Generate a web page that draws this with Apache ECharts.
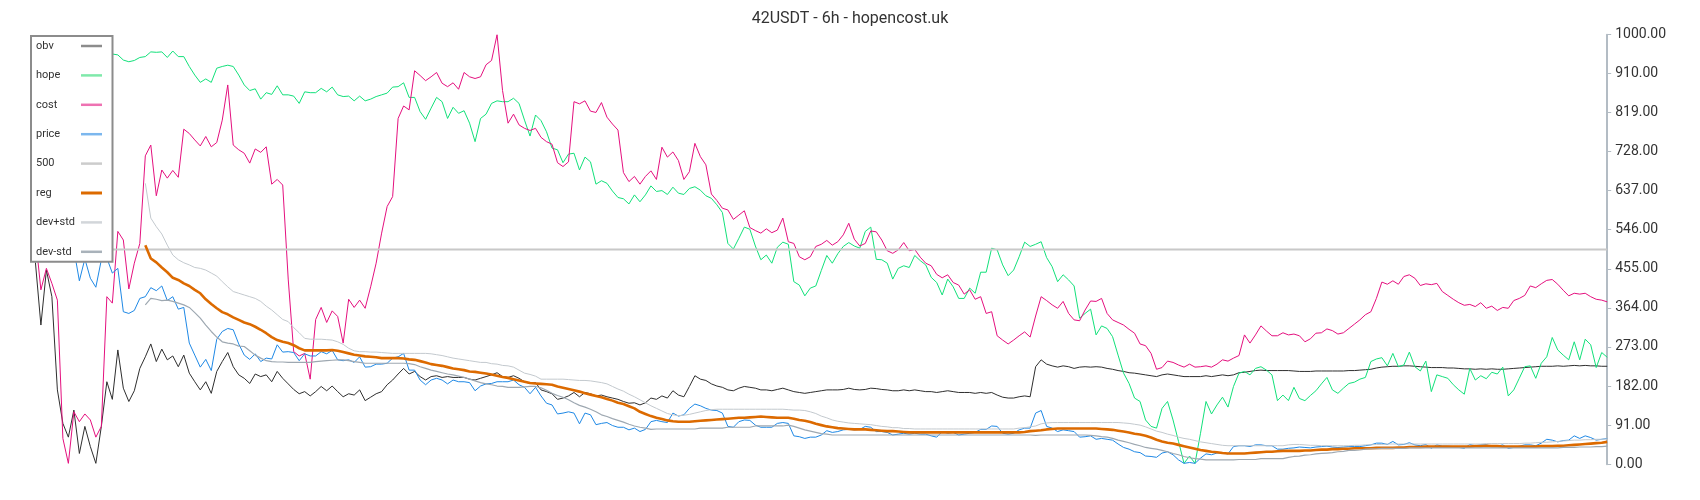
<!DOCTYPE html>
<html>
<head>
<meta charset="utf-8">
<script src="https://cdn.jsdelivr.net/npm/echarts@6/dist/echarts.min.js"></script>
<style>
  html, body { margin: 0; padding: 0; background: #fff; }
  #chart { width: 1700px; height: 500px; }
</style>
</head>
<body>
<div id="chart"></div>
<script>
const titleText = '42USDT - 6h - hopencost.uk';
const seriesNames = ['obv', 'hope', 'cost', 'price', '500', 'reg', 'dev+std', 'dev-std'];
const yTicks = [0, 91, 182, 273, 364, 455, 546, 637, 728, 819, 910, 1000];

const obv = [
  470, 324, 452, 390, 173, 95, 63, 126, 25, 88, 41, 2, 88, 192, 151, 266, 177, 146, 171, 223, 250, 280, 239, 268, 243, 252, 227, 254, 212, 192, 173, 192, 165, 216, 239, 260, 227, 208, 200, 188, 210, 204, 208, 192, 216, 200,
  187, 174, 164, 169, 159, 169, 181, 171, 182, 169, 157, 164, 161, 173, 148, 156, 164, 169, 185, 196, 210, 223, 210, 216, 204, 196, 204, 206, 202, 204, 202, 202, 202, 198, 196, 200, 204, 208, 213, 204, 202, 206, 200, 192, 188, 190,
  173, 169, 164, 151, 154, 159, 167, 157, 167, 164, 159, 161, 157, 154, 151, 146, 142, 143, 138, 143, 154, 151, 159, 154, 171, 161, 157, 181, 206, 198, 195, 187, 182, 179, 173, 171, 177, 181, 179, 177, 173, 173, 171, 174, 177,
  173, 169, 167, 165, 167, 169, 171, 173, 173, 173, 174, 177, 174, 173, 174, 177, 176, 174, 173, 171, 171, 173, 171, 173, 171, 169, 169, 167, 169, 171, 169, 167, 167, 167, 165, 167, 165, 167, 161, 156, 154, 154, 157, 159, 157, 227,
  243, 233, 229, 226, 229, 227, 223, 226, 227, 226, 227, 226, 223, 221, 218, 216, 213, 212, 210, 208, 206, 204, 208, 210, 208, 206, 204, 204, 204, 204, 206, 204, 206, 208, 206, 208, 213, 214, 216, 218, 219, 218, 218, 218, 218, 218,
  217, 216, 216, 216, 217, 217, 217, 217, 217, 217, 218, 218, 219, 220, 221, 224, 226, 227, 228, 228, 229, 229, 228, 227, 226, 225, 225, 225, 224, 224, 223, 222, 222, 221, 222, 221, 222, 221, 221, 222, 223, 224, 225, 226, 227, 228,
  228, 228, 229, 228, 229, 230, 229, 230, 229, 229, 228, 228
];

const hope = [
  930, 945, 950, 940, 955, 948, 952, 960, 950, 945, 955, 958, 950, 952,
  955, 953, 941, 937, 940, 947, 949, 960, 959, 960, 947, 962, 949, 949, 926, 906, 889, 897, 889, 922, 926, 929, 926, 906, 883, 870, 874, 850, 865, 861, 881, 860,
  860, 857, 840, 867, 865, 865, 875, 867, 878, 860, 856, 857, 846, 857, 846, 850, 856, 860, 864, 878, 879, 888, 854, 854, 821, 803, 829, 854, 844, 805, 831, 817, 823, 794, 751, 805, 815, 840, 846, 844, 844, 852, 840, 801, 764, 813,
  800, 774, 736, 732, 702, 722, 724, 685, 715, 704, 652, 660, 654, 636, 621, 618, 606, 627, 611, 627, 648, 635, 637, 628, 645, 631, 628, 642, 646, 638, 625, 619, 604, 586, 514, 501, 526, 552, 547, 508, 476, 487, 468, 505, 517, 512,
  425, 417, 392, 410, 415, 451, 486, 468, 490, 507, 516, 508, 503, 542, 552, 477, 476, 468, 431, 456, 462, 458, 486, 474, 464, 435, 423, 394, 431, 413, 386, 386, 410, 398, 447, 447, 503, 499, 464, 439, 452, 483, 517, 507, 512,
  518, 481, 460, 425, 441, 429, 415, 340, 351, 361, 301, 322, 316, 297, 254, 212, 188, 154, 146, 103, 88, 84, 130, 146, 103, 53, 2, 19, 2, 72, 146, 117, 138, 156, 133, 181, 212, 216, 208, 223, 227, 219, 208, 148, 161, 148,
  179, 153, 148, 160, 171, 187, 202, 173, 165, 177, 188, 191, 198, 202, 239, 245, 248, 229, 258, 227, 231, 261, 227, 217, 240, 169, 208, 204, 200, 185, 173, 163, 223, 196, 206, 199, 214, 210, 226, 159, 173, 200, 227, 229, 200, 235,
  250, 295, 266, 254, 243, 285, 243, 291, 278, 225, 260, 249
];

const cost = [
  530, 406, 456, 421, 382, 60, 2, 122, 99, 117, 103, 63, 88, 390, 375, 542, 522, 408, 468, 514, 718, 743, 625, 685, 666, 684, 668, 780, 770, 755, 741, 763, 739, 749, 801, 883, 743, 732, 724, 701, 734, 726, 739, 652, 663, 650,
  431, 262, 252, 258, 198, 337, 365, 330, 357, 344, 282, 384, 365, 382, 363, 413, 468, 538, 600, 623, 805, 834, 825, 916, 905, 893, 902, 912, 887, 879, 888, 873, 912, 902, 898, 902, 930, 940, 1000, 870, 794, 815, 790, 782, 777, 782,
  761, 751, 745, 702, 693, 704, 844, 839, 846, 822, 819, 842, 808, 792, 778, 679, 658, 670, 652, 670, 683, 663, 738, 715, 727, 707, 663, 681, 747, 716, 697, 629, 614, 596, 592, 570, 580, 590, 551, 544, 538, 548, 539, 545, 573, 518,
  514, 483, 476, 483, 507, 512, 521, 510, 518, 534, 561, 524, 508, 514, 543, 541, 522, 497, 491, 499, 516, 497, 500, 482, 468, 462, 442, 434, 441, 423, 417, 396, 406, 384, 390, 351, 355, 299, 289, 280, 289, 299, 308, 296, 345,
  390, 381, 371, 363, 379, 351, 336, 334, 359, 380, 379, 386, 351, 336, 330, 324, 314, 305, 280, 276, 258, 221, 225, 240, 237, 231, 226, 233, 226, 227, 229, 226, 233, 243, 240, 247, 253, 301, 282, 301, 322, 310, 299, 299, 306, 301,
  303, 299, 285, 292, 305, 306, 315, 311, 303, 306, 316, 326, 336, 348, 355, 386, 424, 419, 427, 419, 437, 441, 433, 416, 420, 418, 421, 402, 393, 384, 376, 370, 372, 367, 376, 363, 368, 358, 365, 363, 381, 386, 393, 415, 411, 420,
  428, 430, 419, 405, 392, 398, 396, 398, 390, 384, 382, 378
];

const price = [
  530, 510, 495, 520, 500, 490, 515, 500,
  427, 478, 433, 412, 476, 480, 445, 456, 355, 351, 358, 386, 390, 411, 404, 415, 381, 390, 361, 365, 282, 254, 226, 244, 218, 291, 309, 316, 313, 280, 254, 244, 257, 239, 247, 245, 278, 261,
  262, 260, 241, 257, 252, 252, 262, 257, 265, 243, 241, 243, 237, 250, 226, 227, 233, 233, 235, 247, 250, 258, 219, 219, 196, 185, 196, 200, 196, 187, 196, 192, 192, 190, 171, 182, 187, 188, 192, 192, 192, 196, 185, 179, 164, 179,
  159, 142, 138, 117, 119, 122, 119, 94, 119, 115, 92, 95, 97, 90, 86, 86, 80, 84, 76, 81, 99, 102, 99, 97, 119, 112, 115, 130, 140, 136, 130, 126, 125, 119, 88, 86, 99, 103, 102, 91, 86, 86, 86, 95, 97,
  95, 66, 64, 60, 63, 63, 68, 78, 74, 76, 80, 81, 80, 81, 88, 86, 76, 76, 74, 68, 70, 72, 70, 72, 70, 70, 66, 63, 76, 72, 74, 68, 70, 72, 74, 81, 81, 89, 88, 72, 70, 72, 80, 84, 84, 119,
  125, 88, 84, 76, 80, 78, 76, 63, 64, 66, 58, 60, 58, 56, 47, 39, 35, 29, 27, 19, 18, 16, 26, 29, 22, 10, 2, 4, 2, 14, 24, 22, 26, 26, 24, 41, 43, 43, 41, 45, 45, 43, 43, 35, 35, 37,
  38, 40, 39, 38, 40, 41, 42, 40, 39, 40, 41, 41, 41, 43, 45, 49, 49, 46, 53, 45, 46, 50, 45, 43, 46, 37, 45, 42, 42, 41, 39, 37, 46, 43, 45, 45, 42, 42, 45, 37, 39, 42, 45, 45, 43, 49,
  58, 56, 52, 55, 56, 66, 60, 66, 62, 56, 58, 60
];

const level500 = 500;

const reg = [
  null, null, null, null, null, null, null, null, null, null, null, null, null, null, null, null, null, null, null, null,
  510, 479, 470, 458, 447, 434, 429, 421, 415, 406, 398, 384, 373, 363, 354, 349, 342, 336, 330, 326, 320, 313, 305, 296, 289, 285,
  282, 277, 270, 265, 265, 265, 265, 265, 266, 264, 261, 258, 255, 253, 251, 250, 249, 247, 247, 247, 247, 246, 244, 243, 240, 237, 233, 231, 229, 226, 223, 221, 219, 216, 215, 213, 211, 209, 206, 203, 201, 198, 195, 192, 189, 188,
  187, 186, 185, 181, 178, 175, 172, 169, 165, 162, 159, 156, 152, 148, 143, 140, 135, 130, 122, 117, 112, 108, 105, 102, 100, 99, 99, 99, 100, 101, 102, 103, 104, 105, 106, 107, 108, 108, 109, 110, 111, 110, 109, 108, 108,
  108, 106, 103, 101, 98, 94, 91, 88, 86, 84, 83, 82, 81, 81, 81, 80, 79, 78, 77, 77, 76, 75, 74, 74, 74, 74, 74, 74, 74, 74, 74, 74, 74, 74, 74, 74, 74, 74, 74, 74, 74, 74, 74, 75, 77, 78,
  79, 81, 82, 83, 83, 83, 83, 83, 83, 83, 83, 82, 81, 80, 78, 76, 74, 71, 69, 66, 62, 57, 53, 50, 48, 45, 42, 39, 36, 33, 31, 29, 28, 26, 25, 25, 25, 25, 26, 27, 28, 29, 29, 30, 31,
  31, 31, 31, 32, 32, 33, 34, 34, 35, 35, 36, 36, 37, 37, 37, 37, 38, 38, 38, 38, 39, 39, 40, 40, 40, 41, 41, 41, 41, 41, 41, 41, 41, 41, 42, 42, 43, 42, 42, 41, 41, 41, 41, 41, 41, 41, 42,
  42, 42, 43, 43, 44, 45, 46, 47, 48, 49, 50, 52
];

const devPlus = [
  null, null, null, null, null, null, null, null, null, null, null, null, null, null, null, null, null, null, null, null,
  654, 573, 553, 536, 510, 487, 476, 469, 464, 458, 456, 452, 445, 438, 425, 413, 402, 398, 394, 390, 386, 379, 368, 359, 348, 337,
  332, 318, 306, 293, 291, 291, 291, 290, 289, 285, 279, 270, 264, 262, 262, 261, 261, 260, 259, 258, 258, 258, 258, 258, 258, 258, 257, 255, 253, 250, 247, 245, 243, 241, 239, 237, 237, 234, 233, 230, 229, 226, 219, 212, 209, 205,
  198, 198, 198, 198, 198, 197, 196, 195, 195, 194, 192, 190, 187, 181, 175, 170, 163, 157, 150, 143, 136, 130, 124, 118, 115, 113, 114, 116, 119, 122, 125, 127, 128, 128, 128, 128, 128, 128, 128, 128, 128, 128, 128, 128, 128,
  127, 126, 126, 125, 122, 118, 112, 108, 103, 100, 98, 96, 95, 94, 93, 92, 90, 88, 87, 85, 85, 83, 83, 82, 82, 82, 82, 82, 82, 82, 82, 82, 82, 82, 82, 82, 82, 82, 82, 82, 82, 82, 84, 85, 87, 89,
  94, 96, 97, 97, 97, 97, 97, 97, 97, 97, 97, 97, 97, 97, 97, 96, 95, 93, 91, 87, 82, 77, 74, 70, 67, 63, 60, 58, 55, 52, 50, 48, 46, 44, 43, 43, 43, 43, 43, 43, 43, 43, 43, 43, 43,
  45, 46, 46, 45, 44, 44, 43, 43, 43, 43, 43, 43, 44, 44, 45, 45, 46, 46, 47, 47, 47, 47, 47, 47, 47, 47, 47, 47, 47, 47, 47, 47, 47, 47, 47, 47, 48, 48, 48, 48, 48, 48, 48, 49, 49, 50, 51,
  51, 52, 53, 54, 55, 56, 56, 57, 57, 58, 58, 59
];

const devMinus = [
  null, null, null, null, null, null, null, null, null, null, null, null, null, null, null, null, null, null, null, null,
  371, 386, 384, 381, 382, 379, 375, 371, 365, 353, 340, 324, 309, 296, 285, 282, 280, 275, 274, 264, 254, 247, 241, 239, 238, 238,
  237, 237, 237, 237, 237, 239, 240, 241, 242, 243, 243, 241, 239, 237, 235, 235, 235, 235, 235, 235, 235, 235, 234, 232, 227, 223, 219, 216, 213, 210, 208, 205, 202, 198, 194, 190, 187, 185, 182, 181, 179, 179, 179, 180, 181, 181,
  178, 172, 165, 160, 156, 150, 143, 137, 133, 128, 122, 115, 111, 106, 102, 98, 93, 89, 86, 84, 81, 82, 82, 82, 82, 82, 82, 82, 82, 84, 84, 84, 84, 84, 86, 86, 86, 86, 86, 89, 89, 89, 89, 89, 89,
  91, 88, 84, 80, 77, 74, 71, 70, 68, 68, 68, 68, 68, 68, 68, 68, 68, 68, 68, 68, 68, 68, 68, 68, 68, 68, 68, 68, 68, 68, 68, 68, 68, 68, 68, 68, 68, 68, 68, 68, 68, 68, 68, 68, 68, 67,
  68, 68, 68, 68, 68, 68, 68, 68, 68, 67, 66, 64, 63, 60, 56, 53, 50, 46, 43, 39, 37, 35, 32, 29, 25, 22, 18, 15, 13, 12, 10, 10, 10, 10, 10, 10, 11, 11, 11, 11, 13, 13, 13, 13, 13,
  16, 18, 19, 21, 22, 24, 25, 26, 27, 29, 30, 32, 32, 33, 35, 36, 36, 37, 37, 37, 37, 37, 38, 38, 38, 38, 38, 38, 38, 38, 38, 38, 38, 38, 38, 38, 38, 38, 38, 38, 38, 38, 38, 38, 38, 38, 38,
  38, 38, 38, 39, 39, 39, 40, 40, 40, 41, 41, 42
];

const categories = hope.map((_, i) => i);
const line500 = categories.map(() => level500);

const seriesColors = ['#2e2e2e', '#12e07a', '#e4107e', '#1e88e5', '#c8c8c8', '#dc6a00', '#c3c9ce', '#9ea8b1'];
const legendColors = ['#8c8c8c', '#7fe9aa', '#ee72b2', '#7cb7ee', '#cccccc', '#dc6a00', '#d2d6da', '#a9b2ba'];
const seriesWidths = [1, 1, 1, 1, 2, 2.6, 1, 1.2];
const seriesData = [obv, hope, cost, price, line500, reg, devPlus, devMinus];

const chart = echarts.init(document.getElementById('chart'), null, { renderer: 'canvas' });
chart.setOption({
  animation: false,
  backgroundColor: '#ffffff',
  textStyle: { fontFamily: 'Roboto' },
  title: {
    text: titleText,
    left: 'center',
    top: 11,
    padding: 0,
    textStyle: { fontSize: 16, fontWeight: 'normal', color: '#333', fontFamily: 'Roboto' }
  },
  legend: {
    orient: 'vertical',
    left: 31,
    top: 36,
    align: 'right',
    itemWidth: 21,
    itemHeight: 14,
    itemGap: 15.4,
    padding: [3, 9, 3, 5],
    backgroundColor: '#ffffff',
    borderColor: '#8c8c8c',
    borderWidth: 2,
    selectedMode: false,
    formatter: name => '{t|' + name + '}',
    textStyle: {
      fontSize: 11, color: '#333', fontFamily: 'Roboto', lineHeight: 14,
      rich: { t: { width: 40, height: 14, lineHeight: 14, align: 'left', fontSize: 11, color: '#333', fontFamily: 'Roboto' } }
    },
    data: seriesNames.map((n, i) => ({
      name: n,
      lineStyle: { color: legendColors[i], width: i === 5 ? 3 : 2.5 },
      itemStyle: { color: 'rgba(0,0,0,0)', borderColor: 'rgba(0,0,0,0)', borderWidth: 0, opacity: 0 }
    }))
  },
  grid: { left: 35.4, right: 92.8, top: 34.7, bottom: 35.8, containLabel: false },
  xAxis: {
    type: 'category',
    data: categories,
    boundaryGap: false,
    show: false
  },
  yAxis: {
    type: 'value',
    position: 'right',
    min: yTicks[0],
    max: yTicks[yTicks.length - 1],
    interval: yTicks[1] - yTicks[0],
    splitLine: { show: false },
    axisLine: { show: true, lineStyle: { color: '#b3bcc4', width: 2 } },
    axisTick: { show: true, length: 4, lineStyle: { color: '#b3bcc4', width: 1 } },
    axisLabel: {
      margin: 8,
      fontSize: 14,
      color: '#333',
      fontFamily: 'Roboto',
      formatter: v => Number(v).toFixed(2)
    }
  },
  series: seriesNames.map((n, i) => ({
    name: n,
    type: 'line',
    data: seriesData[i],
    symbol: 'none',
    showSymbol: false,
    silent: true,
    connectNulls: false,
    color: seriesColors[i],
    lineStyle: { color: seriesColors[i], width: seriesWidths[i] },
    emphasis: { disabled: true }
  }))
});
</script>
</body>
</html>
